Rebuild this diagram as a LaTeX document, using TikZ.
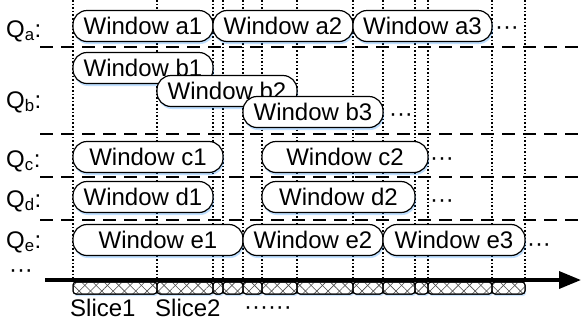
\documentclass[tikz,border=0pt]{standalone}
\usepackage{fontspec}
\setmainfont{Liberation Sans}
\usetikzlibrary{positioning,arrows.meta,patterns.meta,shadows}

\begin{document}
\begin{tikzpicture}[x=1pt,y=-1pt,
    txt/.style={inner sep=0pt,font=\fontsize{24}{24}\selectfont},
    win/.style={txt,draw,line width=1.2pt,rounded corners=14pt,minimum height=31pt,fill=white,
        drop shadow={shadow xshift=1pt,shadow yshift=-2.5pt,opacity=0.25,fill=blue!50!cyan}},
    cut/.style={dash pattern=on 1.6pt off 2pt,line width=1.2pt},
    sep/.style={dash pattern=on 13pt off 8pt,line width=1.3pt},
    slicebox/.style={draw,fill=white,line width=1pt,rounded corners=3pt,
        drop shadow={shadow xshift=1pt,shadow yshift=-2pt,opacity=0.2,fill=blue!50!cyan}},
    hatch/.style={pattern={Lines[angle=#1,distance=8pt,line width=0.6pt]},pattern color=black!70,rounded corners=3pt}]
    \useasboundingbox (0,0) rectangle (582,325);
    % slice boundaries
    \foreach \xs in {73,157,213,223,243,262,297,353,383,415,428,492,525}
        \draw[cut] (\xs,0) -- (\xs,280);
    % query separators
    \foreach \ys in {47,134,177,220}
        \draw[sep] (40,\ys) -- (582,\ys);
    % queries
    \node[txt,anchor=base west] (qa) at (6,37) {Q\textsubscript{a}:};
    \node[txt,anchor=base west] (qb) at (6,108) {Q\textsubscript{b}:};
    \node[txt,anchor=base west] (qc) at (6,167) {Q\textsubscript{c}:};
    \node[txt,anchor=base west] (qd) at (6,207) {Q\textsubscript{d}:};
    \node[txt,anchor=base west] (qe) at (6,248) {Q\textsubscript{e}:};
    \node[txt,anchor=base] (qmore) at (21,277) {···};
    % windows
    \foreach \nm/\xa/\xb/\yc/\lab in {a1/73/213/26/Window a1,a2/213/353/26/Window a2,a3/353/492/26/Window a3,
            b1/73/213/68/Window b1,b2/157/297/91/Window b2,b3/243/383/112/Window b3,
            c1/73/223/157/Window c1,c2/262/428/157/Window c2,
            d1/73/213/197/Window d1,d2/262/415/197/Window d2,
            e1/73/243/240/Window e1,e2/243/383/240/Window e2,e3/383/525/240/Window e3}
        \node[win,minimum width={(\xb-\xa)*1pt}] (w\nm) at ({(\xa+\xb)/2},\yc) {\lab};
    \node[txt,anchor=base] (ma) at (507,34) {···};
    \node[txt,anchor=base] (mb) at (401,121) {···};
    \node[txt,anchor=base] (mc) at (442,165) {···};
    \node[txt,anchor=base] (md) at (442,207) {···};
    \node[txt,anchor=base] (me) at (539,251) {···};
    % time axis
    \coordinate (t0) at (45,280);
    \coordinate (t1) at (581,280);
    \draw[line width=3.5pt,-{Triangle[length=22pt,width=17pt]}] (t0) -- (t1);
    % slices
    \foreach \xa/\xb in {73/157,157/213,213/223,223/243,243/262,262/297,297/353,353/383,383/415,415/428,428/492,492/525}{
        \path[slicebox] (\xa,282) rectangle (\xb,294);
        \path[hatch=45] (\xa,282) rectangle (\xb,294);
        \path[hatch=-45] (\xa,282) rectangle (\xb,294);
        \draw[line width=1pt,rounded corners=3pt] (\xa,282) rectangle (\xb,294);
    }
    \node[txt,anchor=base west] (s1) at (70,316) {Slice1};
    \node[txt,anchor=base west] (s2) at (155,316) {Slice2};
    \node[txt,anchor=base] (smore) at (268,314) {······};
\end{tikzpicture}
\end{document}
